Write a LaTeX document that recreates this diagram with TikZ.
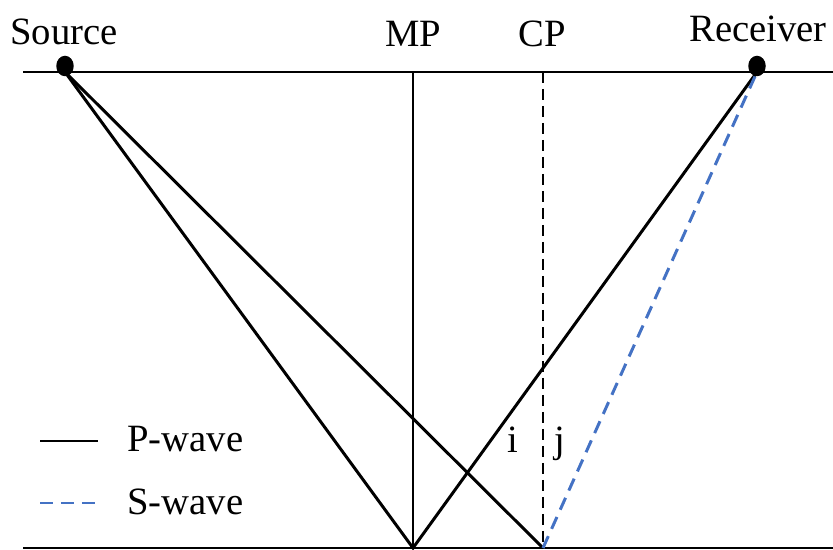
\documentclass[tikz,border=0pt]{standalone}
\usepackage{fontspec}
\setmainfont{Liberation Serif}
\usepackage{tikz}
\usetikzlibrary{shapes.geometric}
\definecolor{SWaveBlue}{HTML}{4472C4}

\begin{document}
\begin{tikzpicture}[x=0.02cm, y=-0.02cm,
    ray/.style={line width=1.7pt, color=black},
    sray/.style={line width=1.7pt, color=SWaveBlue, dash pattern=on 0.26cm off 0.16cm},
    cpline/.style={line width=1.7pt, color=black, dash pattern=on 0.22cm off 0.12cm},
    label/.style={font=\fontsize{22}{26}\selectfont, inner sep=0pt, anchor=base},
    station/.style={ellipse, fill=black, inner sep=0pt, minimum width=0.35cm, minimum height=0.41cm}]
                    \useasboundingbox (0,0) rectangle (833,550);
                    
                    % surface and reflector
                    \coordinate (surfL) at (23,72);
                    \coordinate (surfR) at (833,72);
                    \coordinate (botL) at (23,548);
                    \coordinate (botR) at (833,548);
                    \draw[ray] (surfL) -- (surfR);
                    \draw[ray] (botL) -- (botR);
                    
                    % shot and receiver points
                    \coordinate (src) at (65,72);
                    \coordinate (rcv) at (757,72);
                    \coordinate (mpTop) at (413,72);
                    \coordinate (cpTop) at (543,72);
                    \coordinate (mp) at (413,548);
                    \coordinate (cp) at (543,548);
                    
                    \draw[ray] (mpTop) -- (mp);
                    \draw[cpline] (cpTop) -- (cp);
                    
                    \draw[ray] (src) -- (mp) -- (rcv);
                    \draw[ray] (src) -- (cp);
                    \draw[sray] (cp) -- (rcv);
                    
                    \node[station] (srcDot) at (65,66) {};
                    \node[station] (rcvDot) at (757,66) {};
                    
                    \node[label] (srcLabel) at (64,45) {Source};
                    \node[label] (mpLabel) at (413,47) {MP};
                    \node[label] (cpLabel) at (542,47) {CP};
                    \node[label] (rcvLabel) at (758,42) {Receiver};
                    \node[label] (iLabel) at (513,453) {i};
                    \node[label] (jLabel) at (560,453) {j};
                    
                    % legend
                    \coordinate (pKeyL) at (40,441);
                    \coordinate (pKeyR) at (98,441);
                    \coordinate (sKeyL) at (40,503);
                    \coordinate (sKeyR) at (98,503);
                    \draw[ray] (pKeyL) -- (pKeyR);
                    \draw[sray] (sKeyL) -- (sKeyR);
                    \node[label, anchor=base west] (pKey) at (127,452) {P-wave};
                    \node[label, anchor=base west] (sKey) at (127,515) {S-wave};
                \end{tikzpicture}
\end{document}
